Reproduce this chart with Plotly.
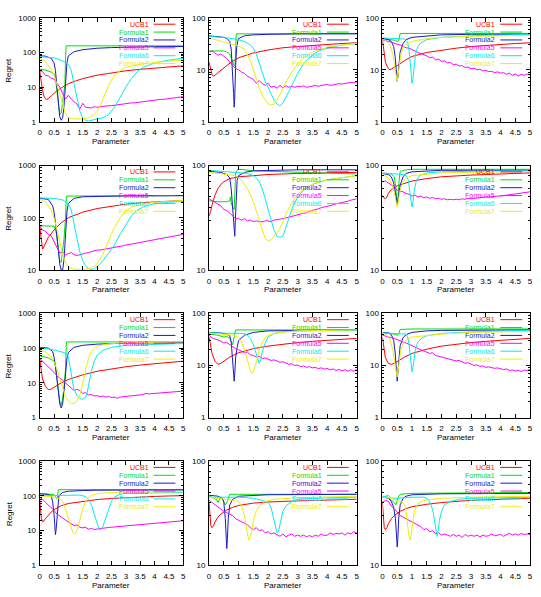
import math
import plotly.graph_objects as go

W, H = 541, 597
NAMES = ["UCB1", "Formula1", "Formula2", "Formula5", "Formula6", "Formula7"]
COLORS = ["#ff0000", "#00e000", "#1a1acc", "#ff00ff", "#00eeee", "#eeee00"]
X_TICKS = [0, 0.5, 1, 1.5, 2, 2.5, 3, 3.5, 4, 4.5, 5]
X_TICK_TEXT = ["0", "0.5", "1", "1.5", "2", "2.5", "3", "3.5", "4", "4.5", "5"]
M_X = [0.0, 0.1, 0.2, 0.3, 0.4, 0.5, 0.6, 0.7, 0.8, 0.9,
       1.0, 1.1, 1.2, 1.3, 1.4, 1.5, 1.6, 1.7, 1.8, 1.9,
       2.0, 2.1, 2.2, 2.3, 2.4, 2.5, 2.6, 2.7, 2.8, 2.9,
       3.0, 3.1, 3.2, 3.3, 3.4, 3.5, 3.6, 3.7, 3.8, 3.9,
       4.0, 4.1, 4.2, 4.3, 4.4, 4.5, 4.6, 4.7, 4.8, 4.9, 5.0]

# ---------------- Panel 1 ----------------
P1_UCB1 = [(0,30),(0.05,15),(0.1,8),(0.15,5.5),(0.2,4.6),(0.25,4.4),(0.3,4.6),(0.4,5.5),(0.5,6.6),(0.6,7.8),(0.8,10),(1.0,12.5),(1.25,15),(1.5,17.5),(2,22),(2.5,26),(3,29.5),(3.5,32.5),(4,35.5),(4.5,38.5),(5,41)]
P1_F1 = [(0,33),(0.2,31),(0.4,27),(0.5,24),(0.55,18),(0.6,8),(0.65,3),(0.7,1.6),(0.75,1.8),(0.8,3.5),(0.85,8),(0.88,12),(0.9,60),(0.92,155),(5,155)]
P1_F2 = [(0,80),(0.2,78),(0.4,68),(0.5,50),(0.55,30),(0.6,10),(0.65,3),(0.7,1.4),(0.75,1.1),(0.8,1.3),(0.85,3),(0.9,15),(0.95,50),(1.0,80),(1.2,105),(1.5,120),(2,132),(2.5,138),(3,142),(4,146),(5,148)]
P1_F5 = [30,28,22,21,18,17,13,10,6.5,4.5, 5.8,4.5,3.8,3.2,2.3,3.4,2.6,2.6,2.5,2.7, 2.6,2.7,2.8,2.8,2.9,2.9,3.0,3.1,3.2,3.2, 3.3,3.4,3.5,3.5,3.6,3.7,3.8,3.9,4.0,4.0, 4.1,4.3,4.4,4.4,4.5,4.6,4.8,4.9,5.0,5.1, 5.3]
P1_F6 = [(0,75),(0.3,74),(0.5,70),(0.7,62),(0.9,52),(1.0,45),(1.1,30),(1.2,12),(1.3,4.5),(1.4,2),(1.5,1.3),(1.6,1.1),(1.7,1.05),(1.8,1.1),(2.0,1.15),(2.2,1.3),(2.4,1.6),(2.6,2.6),(2.8,5),(3.0,10),(3.2,18),(3.4,28),(3.6,37),(3.8,44),(4.0,50),(4.5,60),(5,68)]
P1_F7 = [(0,70),(0.2,55),(0.4,33),(0.5,22),(0.6,12),(0.7,6),(0.8,3),(0.9,1.7),(1.0,1.3),(1.2,1.2),(1.5,1.2),(1.7,1.3),(1.9,1.6),(2.0,2),(2.1,2.8),(2.2,4.5),(2.3,7),(2.4,11),(2.5,16),(2.6,21),(2.8,30),(3.0,37),(3.5,46),(4.0,52),(4.5,56),(5,60)]

# ---------------- Panel 2 ----------------
P2_UCB1 = [(0,14),(0.05,10),(0.1,8),(0.15,7.5),(0.2,7.8),(0.3,8.8),(0.5,11),(0.75,14),(1,17),(1.5,21),(2,24),(2.5,26.5),(3,28),(3.5,29.5),(4,31),(4.5,32),(5,33)]
P2_F1 = [(0,23),(0.3,23),(0.5,23),(0.6,22),(0.7,20),(0.75,17),(0.8,14),(0.85,12),(0.88,12),(0.9,30),(0.92,49),(5,50)]
P2_F2 = [(0,45),(0.3,44),(0.5,42),(0.6,40),(0.7,35),(0.75,25),(0.8,9),(0.83,3.5),(0.85,1.9),(0.87,3),(0.9,12),(0.93,25),(0.97,35),(1.0,40),(1.2,45),(1.5,47),(2,48),(3,49),(5,49)]
P2_F5 = [22,23,21,19,20,18,16.5,14,12,10.5, 10,9,8.5,7.5,7,6.5,5.5,6.2,5.4,5.0, 5.5,4.6,4.8,4.4,5.0,4.5,4.9,4.6,4.8,4.6, 4.8,4.7,4.9,4.6,4.7,4.9,5.0,4.8,5.0,5.1, 5.2,5.0,5.1,5.3,5.4,5.3,5.5,5.6,5.7,5.6, 5.8]
P2_F6 = [(0,44),(0.5,42),(0.8,40),(1.0,38),(1.2,35),(1.4,30),(1.5,26),(1.6,20),(1.7,14),(1.8,9),(1.9,6),(2.0,4.5),(2.1,3.3),(2.2,2.6),(2.3,2.2),(2.4,2.0),(2.5,2.3),(2.6,2.9),(2.7,3.8),(2.8,5),(2.9,6.5),(3.0,8.5),(3.2,13),(3.4,17),(3.6,21),(3.8,24),(4,26),(4.5,30),(5,32)]
P2_F7 = [(0,40),(0.3,37),(0.6,33),(1.0,29),(1.2,25),(1.3,20),(1.4,15),(1.5,10),(1.6,6.5),(1.7,4.5),(1.8,3.2),(1.9,2.6),(2.0,2.2),(2.1,2.1),(2.2,2.2),(2.3,2.6),(2.4,3.3),(2.5,4.3),(2.6,5.8),(2.8,9),(3.0,13),(3.2,17),(3.5,22),(4,27),(4.5,30),(5,32)]

# ---------------- Panel 3 ----------------
P3_UCB1 = [(0,38),(0.05,22),(0.1,14),(0.2,10.5),(0.25,10),(0.3,10.3),(0.4,11),(0.5,12),(0.75,15),(1,18),(1.5,21.5),(2,24),(2.5,26),(3,28),(3.5,29.5),(4,31),(4.5,32),(5,33)]
P3_F1 = [(0,40),(0.2,39),(0.4,37),(0.5,35),(0.55,36),(0.58,45),(0.6,50),(5,50)]
P3_F2 = [(0,40),(0.2,38),(0.3,35),(0.38,28),(0.43,18),(0.47,10),(0.5,6),(0.52,7),(0.55,13),(0.6,22),(0.7,32),(0.8,38),(1.0,42),(1.5,45),(2,47),(3,48),(5,48)]
P3_F5 = [38,36,35,34,33,31,30,28,26.5,26, 24,23,21.5,20.5,19,18.5,17,17.5,15.5,16, 14.5,14.8,13.5,13.8,12.5,12.8,11.8,12,11,11.3, 10.5,10.7,10,10.2,9.5,9.7,9.2,9.3,8.8,9.1, 8.6,8.8,8.2,8.6,7.8,8.3,7.6,8.2,7.8,8.3, 8.0]
P3_F6 = [(0,41),(0.5,40),(0.75,39),(0.85,34),(0.9,24),(0.95,12),(1.0,5.5),(1.03,6.5),(1.07,11),(1.12,20),(1.2,28),(1.3,33),(1.5,38),(2,42),(3,45),(4,47),(5,48)]
P3_F7 = [(0,40),(0.15,35),(0.25,30),(0.35,20),(0.42,11),(0.47,7),(0.5,6),(0.53,8),(0.57,13),(0.62,20),(0.7,27),(0.8,31),(1.0,35),(1.5,40),(2,42),(3,44),(5,46)]

# ---------------- Panel 4 ----------------
P4_UCB1 = [(0,70),(0.05,35),(0.1,25),(0.15,28),(0.2,33),(0.3,42),(0.5,58),(0.75,80),(1,100),(1.5,128),(2,150),(2.5,168),(3,182),(3.5,193),(4,202),(4.5,210),(5,215)]
P4_F1 = [(0,70),(0.3,70),(0.5,69),(0.55,60),(0.6,45),(0.65,25),(0.7,15),(0.75,14),(0.8,22),(0.85,40),(0.9,100),(0.93,260),(5,265)]
P4_F2 = [(0,235),(0.3,225),(0.45,170),(0.5,130),(0.55,80),(0.6,45),(0.65,22),(0.7,13),(0.75,10),(0.8,10),(0.85,16),(0.9,50),(0.95,130),(1.0,190),(1.2,235),(1.5,252),(2,258),(3,262),(5,265)]
P4_F5 = [70,58,55,48,45,34,27,21,22,19.5, 20.5,21.5,19.5,19,19.5,20.5,21,21.5,22.5,23.5, 24,24,24.5,25,25.5,26,27,27.5,28.5,29, 30,30.5,31.5,32,33,33.5,34.5,35,36,37, 38,39,40,41,42,43,44,45,46,47, 48]
P4_F6 = [(0,240),(0.5,235),(0.8,220),(1.0,185),(1.1,140),(1.2,80),(1.3,40),(1.4,22),(1.5,15),(1.6,12),(1.7,10.5),(1.8,10.2),(1.9,10.5),(2.0,11.5),(2.2,15),(2.4,21),(2.6,30),(2.8,48),(3.0,75),(3.2,110),(3.4,140),(3.6,160),(3.8,175),(4,185),(4.5,198),(5,205)]
P4_F7 = [(0,230),(0.2,200),(0.4,140),(0.5,100),(0.6,60),(0.7,32),(0.8,20),(0.9,14),(1.0,11.5),(1.2,10.3),(1.5,10),(1.8,11),(2.0,13),(2.2,20),(2.4,35),(2.6,65),(2.8,100),(3.0,135),(3.2,160),(3.5,180),(4,198),(4.5,208),(5,215)]

# ---------------- Panel 5 ----------------
P5_UCB1 = [(0,33),(0.05,36),(0.1,42),(0.2,52),(0.3,60),(0.4,66),(0.5,70),(0.7,75),(1,78),(1.5,80),(2,82),(3,84),(4,85),(5,86)]
P5_F1 = [(0,46),(0.3,45),(0.6,45),(0.7,46),(0.72,50),(0.75,44),(0.8,40),(0.85,38),(0.88,60),(0.9,85),(0.95,90),(1.0,92),(1.2,91),(1.5,89),(2,88),(3,86),(4,84),(5,83)]
P5_F2 = [(0,88),(0.4,86),(0.6,82),(0.7,76),(0.75,60),(0.8,35),(0.85,22),(0.87,21),(0.89,30),(0.92,55),(0.95,72),(1.0,80),(1.2,86),(1.5,89),(2,90),(3,91),(5,91)]
P5_F5 = [48,46,44,42,41,38,37,35,33,31, 31,30,31,29.5,30,29,29.5,29,29,29.5, 29.5,29,30,30.5,30.5,31,31.5,32,32.5,33, 33.5,34,35,35.5,36.5,37,38,38.5,39.5,40, 41,41.5,42,43,43.5,44,45,45.5,46.5,47, 48]
P5_F6 = [(0,90),(0.5,88),(1.0,85),(1.3,84),(1.5,80),(1.6,76),(1.7,70),(1.8,60),(1.9,48),(2.0,38),(2.1,30),(2.2,24),(2.3,21),(2.4,20.5),(2.5,21),(2.6,25),(2.7,31),(2.8,38),(3.0,50),(3.2,58),(3.5,66),(4,73),(4.5,77),(5,80)]
P5_F7 = [(0,86),(0.5,83),(0.9,80),(1.1,72),(1.3,60),(1.5,45),(1.7,30),(1.8,24),(1.9,20),(2.0,19),(2.1,19.5),(2.2,21),(2.3,23),(2.4,25),(2.5,29),(2.6,34),(2.8,44),(3.0,53),(3.3,62),(3.6,68),(4,73),(4.5,77),(5,80)]

# ---------------- Panel 6 ----------------
P6_UCB1 = [(0,52),(0.05,49),(0.1,48),(0.15,50),(0.2,54),(0.3,59),(0.5,64),(0.75,68),(1,71),(1.5,75),(2,78),(3,81),(4,83),(5,85)]
P6_F1 = [(0,85),(0.3,83),(0.4,78),(0.45,62),(0.5,42),(0.53,50),(0.56,70),(0.6,88),(0.8,91),(1,92),(5,92)]
P6_F2 = [(0,84),(0.2,82),(0.3,78),(0.38,68),(0.44,55),(0.5,42),(0.54,50),(0.6,65),(0.7,78),(0.8,84),(1,87),(1.5,89),(2,90),(5,90)]
P6_F5 = [70,71,68,66,63,58,57,56,54,53, 51,52,50,51,49,50,48.5,49.5,48,48.5, 47.5,48,47,47.5,47,47.5,47,48,47.5,48.5, 48,48.5,49,49,49.5,50,50,50.5,50.5,51, 51,51.5,51.5,52,52.5,53,53.5,54,54.5,55, 56]
P6_F6 = [(0,84),(0.5,83),(0.8,81),(0.88,72),(0.93,55),(0.97,43),(1.0,40),(1.03,44),(1.08,58),(1.15,72),(1.25,80),(1.5,85),(2,87),(3,88),(5,89)]
P6_F7 = [(0,82),(0.2,76),(0.3,68),(0.4,55),(0.47,44),(0.5,40),(0.53,45),(0.6,58),(0.7,70),(0.8,76),(1,80),(2,85),(5,88)]

# ---------------- Panel 7 ----------------
P7_UCB1 = [(0,50),(0.05,22),(0.1,13),(0.2,8),(0.3,6.4),(0.4,6.6),(0.5,7.5),(0.7,9.5),(1,12.5),(1.5,17),(2,21.5),(2.5,25.5),(3,29),(3.5,32.5),(4,35.5),(4.5,38.5),(5,42)]
P7_F1 = [(0,60),(0.3,52),(0.5,42),(0.55,30),(0.6,15),(0.65,6),(0.7,3),(0.75,2.3),(0.8,3.5),(0.85,8),(0.9,25),(0.93,150),(5,150)]
P7_F2 = [(0,105),(0.3,100),(0.45,80),(0.5,55),(0.55,30),(0.6,12),(0.65,5),(0.7,2.5),(0.75,1.9),(0.8,2.5),(0.85,6),(0.9,20),(0.95,50),(1.0,75),(1.2,105),(1.5,120),(2,130),(3,138),(4,142),(5,145)]
P7_F5 = [50,42,35,29,24,20,16,14,12,10, 8.5,7,6,6.5,6,5,5.2,4.5,4.6,4.2, 4.3,4.0,4.2,3.9,4.1,3.8,3.9,3.6,3.9,4.0, 4.1,4.2,4.3,4.4,4.5,4.5,4.6,5.0,4.8,4.9, 5.0,5.0,5.1,5.2,5.3,5.3,5.4,5.5,5.6,5.7, 5.8]
P7_F6 = [(0,100),(0.3,95),(0.6,85),(0.8,78),(0.9,72),(1.0,55),(1.05,35),(1.1,18),(1.15,10),(1.2,6.5),(1.3,4.3),(1.4,3.5),(1.5,3.4),(1.6,3.8),(1.65,5),(1.7,8),(1.75,13),(1.8,22),(1.9,42),(2.0,62),(2.2,85),(2.5,105),(3,120),(4,130),(5,135)]
P7_F7 = [(0,90),(0.2,78),(0.4,55),(0.5,40),(0.6,25),(0.7,13),(0.8,7),(0.9,4),(1.0,3),(1.1,2.5),(1.2,2.6),(1.3,3),(1.4,4.5),(1.5,9),(1.55,15),(1.6,25),(1.7,50),(1.8,80),(1.9,100),(2.0,115),(2.5,135),(3,142),(5,150)]

# ---------------- Panel 8 ----------------
P8_UCB1 = [(0,35),(0.05,25),(0.1,17),(0.2,12),(0.3,10.5),(0.4,11),(0.5,12),(0.7,14.5),(1,17.5),(1.5,21),(2,23.5),(2.5,25.5),(3,27.5),(3.5,29),(4,30.5),(4.5,32),(5,33)]
P8_F1 = [(0,40),(0.3,38),(0.5,35),(0.6,36),(0.7,33),(0.75,28),(0.8,25),(0.85,35),(0.88,45),(0.9,48),(5,48)]
P8_F2 = [(0,43),(0.4,42),(0.6,40),(0.7,37),(0.75,28),(0.8,12),(0.83,6),(0.85,5),(0.87,7),(0.9,14),(0.95,22),(1.0,30),(1.2,38),(1.5,43),(2,46),(3,47),(5,48)]
P8_F5 = [38,34,32,31,29,27,27.5,25,23,21, 20,19,17.5,18,16,15.5,14.5,15,13.5,14, 13,12.5,12.8,12,11.5,11.8,11,10.5,10.8,10, 10.2,9.5,9.8,9.2,9.5,9,9.2,8.7,9,8.5, 8.8,8.2,8.6,8,8.4,7.9,8.3,7.8,8.3,7.7, 8.4]
P8_F6 = [(0,42),(0.5,42),(1.0,42),(1.2,41),(1.3,38),(1.4,33),(1.5,25),(1.6,17),(1.65,13),(1.7,11),(1.75,13),(1.8,18),(1.9,27),(2.0,35),(2.2,41),(2.5,44),(3,46),(5,47)]
P8_F7 = [(0,42),(0.5,40),(0.8,38),(1.0,35),(1.1,28),(1.2,20),(1.3,12),(1.4,8),(1.45,7),(1.5,7.5),(1.55,9),(1.6,12),(1.7,20),(1.8,28),(1.9,34),(2.0,38),(2.3,42),(3,46),(5,48)]

# ---------------- Panel 9 ----------------
P9_UCB1 = [(0,35),(0.05,20),(0.1,14),(0.2,11),(0.3,10.5),(0.4,11),(0.5,12),(0.75,14.5),(1,17),(1.5,20.5),(2,23.5),(2.5,25.5),(3,27.5),(3.5,29),(4,30.5),(4.5,32),(5,33)]
P9_F1 = [(0,42),(0.3,41),(0.45,39),(0.5,38),(0.55,40),(0.58,46),(0.6,49),(1,50),(5,50)]
P9_F2 = [(0,43),(0.2,42),(0.3,39),(0.38,30),(0.43,18),(0.47,9),(0.5,5),(0.52,7),(0.55,13),(0.6,24),(0.7,34),(0.8,39),(1,43),(1.5,46),(2,47),(5,48)]
P9_F5 = [38,37,35,34,33,31,30,28,27,25, 24,22.5,21,20,19,18,17,17.5,15.5,15, 14.5,14,13.5,13,12.5,12.2,12.5,11.5,11,11.3, 10.5,10,10.3,9.6,9.8,9.2,9.4,9,8.8,9, 8.5,8.3,8.6,8,8.2,7.8,8.1,7.6,8.2,8, 8.4]
P9_F6 = [(0,42),(0.5,41),(0.8,40),(0.85,36),(0.9,26),(0.95,14),(1.0,7.6),(1.03,9),(1.07,14),(1.12,21),(1.2,28),(1.35,34),(1.5,37),(2,41),(3,44),(4,46),(5,47)]
P9_F7 = [(0,42),(0.15,38),(0.25,32),(0.35,20),(0.42,11),(0.47,7),(0.5,6),(0.53,8),(0.57,13),(0.62,20),(0.7,26),(0.8,31),(1.0,35),(1.5,38),(2,40),(3,43),(5,45)]

# ---------------- Panel 10 ----------------
P10_UCB1 = [(0,80),(0.03,35),(0.06,22),(0.1,18),(0.15,19),(0.2,22),(0.3,28),(0.4,34),(0.5,40),(0.75,52),(1,60),(1.5,70),(2,78),(2.5,84),(3,89),(3.5,93),(4,96),(4.5,99),(5,101)]
P10_F1 = [(0,115),(0.3,113),(0.5,108),(0.55,95),(0.6,82),(0.62,90),(0.65,150),(5,150)]
P10_F2 = [(0,115),(0.3,110),(0.4,100),(0.45,70),(0.5,30),(0.53,12),(0.55,7.7),(0.57,10),(0.6,25),(0.63,60),(0.67,100),(0.8,125),(1,135),(1.5,142),(2,145),(5,148)]
P10_F5 = [90,80,65,55,45,38,30,27,23,20, 18,15.5,14,14.5,12.5,12,12.5,11,11.5,10.8, 11.2,11.5,11.8,12,12.3,12.5,12.8,13,13.2,13.5, 13.8,14,14.2,14.5,14.8,15,15.3,15.5,15.8,16, 16.3,16.5,16.8,17,17.3,17.5,17.8,18.1,18.5,18.8, 19.2]
P10_F6 = [(0,100),(0.5,102),(1,108),(1.4,105),(1.6,95),(1.7,80),(1.8,55),(1.9,30),(2.0,16),(2.05,12),(2.1,10.5),(2.15,11),(2.2,13),(2.3,22),(2.4,42),(2.5,70),(2.6,92),(2.8,110),(3,118),(4,123),(5,125)]
P10_F7 = [(0,100),(0.4,95),(0.7,82),(0.8,68),(0.9,42),(1.0,22),(1.1,12),(1.15,9),(1.2,8),(1.25,8.3),(1.3,10),(1.35,15),(1.4,22),(1.5,42),(1.6,70),(1.7,90),(1.8,102),(2.0,115),(2.5,125),(3,128),(5,130)]

# ---------------- Panel 11 ----------------
P11_UCB1 = [(0,40),(0.03,28),(0.06,24),(0.1,23),(0.15,24),(0.2,26),(0.3,29),(0.4,31),(0.6,34),(0.8,36),(1,37.5),(1.5,39.5),(2,40.5),(3,41.5),(4,42.5),(5,43)]
P11_F1 = [(0,46),(0.1,45),(0.2,44),(0.25,43),(0.3,40),(0.35,42),(0.4,45),(0.45,44),(0.5,40),(0.55,38),(0.6,40),(0.65,45),(0.7,48),(1,48),(5,48)]
P11_F2 = [(0,47),(0.3,46),(0.45,44),(0.5,40),(0.55,28),(0.58,18),(0.6,14.5),(0.62,18),(0.65,28),(0.7,38),(0.8,43),(1,46),(2,47.5),(5,48)]
P11_F5 = [42,40,38,36,34,33,32,31,30,28, 27,26,25,24.5,23,22,23,21.5,22,20.5, 21,20,20.5,19.8,19,20,18.8,19.5,20,19, 19.5,19,19.5,18.8,19.3,18.8,19.5,19,20,19.3, 19.5,20.5,19.8,20.2,20,20.5,19.5,20.5,20,21, 20.5]
P11_F6 = [(0,45),(0.5,45),(1,45),(1.5,44),(1.8,42),(2.0,40),(2.1,36),(2.15,31),(2.2,27),(2.25,23),(2.3,20.5),(2.35,21),(2.4,24),(2.45,29),(2.5,33),(2.6,37),(2.8,41),(3,43),(4,44.5),(5,45)]
P11_F7 = [(0,45),(0.3,44),(0.5,43),(0.8,42),(1.0,41),(1.1,37),(1.2,30),(1.25,24),(1.3,20),(1.35,17.5),(1.4,18.5),(1.45,22),(1.5,27),(1.6,33),(1.7,37),(1.9,41),(2.2,43),(3,44.5),(5,46)]

# ---------------- Panel 12 ----------------
P12_UCB1 = [(0,40),(0.03,27),(0.06,23),(0.1,22),(0.15,23),(0.2,25),(0.3,28),(0.4,30),(0.6,33),(0.8,35),(1,36.5),(1.5,38.5),(2,40),(3,42),(4,43),(5,44)]
P12_F1 = [(0,46),(0.2,45),(0.3,42),(0.4,40),(0.45,38),(0.5,42),(0.55,46),(0.6,48),(1,49),(5,50)]
P12_F2 = [(0,45),(0.2,44),(0.3,41),(0.38,36),(0.44,28),(0.48,18),(0.5,15),(0.52,18),(0.55,28),(0.6,38),(0.7,44),(0.8,46),(1,47.5),(2,48.5),(5,49)]
P12_F5 = [40,42,41,37,35,32,30,29,28,27, 26,25,24,23.5,22,22.5,21,21.5,20,20.5, 19.5,20,19.5,19,19.8,19,19.5,18.5,19.8,19, 19.5,19,19.5,18.8,19.5,19,19.3,20,19.2,19.5, 19.8,19,19.6,20.3,19.5,20,19.5,20.2,19.8,20, 19.8]
P12_F6 = [(0,45),(0.2,47),(0.3,44),(0.5,44),(1,45),(1.4,45),(1.55,43),(1.65,38),(1.72,32),(1.78,25),(1.82,21),(1.85,19),(1.88,21),(1.93,27),(2.0,33),(2.1,38),(2.3,41),(2.6,43),(3,44),(5,45)]
P12_F7 = [(0,45),(0.3,44),(0.5,42),(0.7,40),(0.78,36),(0.83,29),(0.87,22),(0.9,19),(0.93,17.5),(0.97,19),(1.0,23),(1.05,29),(1.1,34),(1.2,39),(1.4,42),(2,44),(3,45),(5,46)]

Y_RANGES = [(1, 1000), (1, 100), (1, 100),
            (10, 1000), (10, 100), (10, 100),
            (1, 1000), (1, 100), (1, 100),
            (1, 1000), (10, 100), (10, 100)]

PANELS = [
    (P1_UCB1, P1_F1, P1_F2, P1_F5, P1_F6, P1_F7),
    (P2_UCB1, P2_F1, P2_F2, P2_F5, P2_F6, P2_F7),
    (P3_UCB1, P3_F1, P3_F2, P3_F5, P3_F6, P3_F7),
    (P4_UCB1, P4_F1, P4_F2, P4_F5, P4_F6, P4_F7),
    (P5_UCB1, P5_F1, P5_F2, P5_F5, P5_F6, P5_F7),
    (P6_UCB1, P6_F1, P6_F2, P6_F5, P6_F6, P6_F7),
    (P7_UCB1, P7_F1, P7_F2, P7_F5, P7_F6, P7_F7),
    (P8_UCB1, P8_F1, P8_F2, P8_F5, P8_F6, P8_F7),
    (P9_UCB1, P9_F1, P9_F2, P9_F5, P9_F6, P9_F7),
    (P10_UCB1, P10_F1, P10_F2, P10_F5, P10_F6, P10_F7),
    (P11_UCB1, P11_F1, P11_F2, P11_F5, P11_F6, P11_F7),
    (P12_UCB1, P12_F1, P12_F2, P12_F5, P12_F6, P12_F7),
]

# ---- layout geometry (pixels) ----
COLS = [(38, 183), (209, 358), (384, 533)]
ROWS = [(14, 119.5), (164, 270), (314, 420), (464, 570)]
FONT = "Liberation Sans, Arial, sans-serif"

def px(x):
    return x / W

def py(y):
    return 1 - y / H

fig = go.Figure()
layout = dict(width=W, height=H, margin=dict(l=0, r=0, t=0, b=0),
              paper_bgcolor="white", plot_bgcolor="white", showlegend=False,
              font=dict(family=FONT, size=8, color="black"))
annotations = []
shapes = []

for i, series in enumerate(PANELS):
    r, c = divmod(i, 3)
    s = "" if i == 0 else str(i + 1)
    L, R = COLS[c]
    T, B = ROWS[r]
    lo, hi = Y_RANGES[i]
    for name, color, data in zip(NAMES, COLORS, series):
        if name == "Formula5":
            xs, ys = M_X, data
        else:
            xs = [p[0] for p in data]
            ys = [p[1] for p in data]
        fig.add_trace(go.Scatter(x=xs, y=ys, mode="lines", name=name,
                                 line=dict(color=color, width=1),
                                 xaxis="x" + s, yaxis="y" + s, showlegend=False))
    d0, d1 = int(round(math.log10(lo))), int(round(math.log10(hi)))
    major = [10 ** k for k in range(d0, d1 + 1)]
    minor = [m * 10 ** k for k in range(d0, d1) for m in range(2, 10)]
    layout["xaxis" + s] = dict(domain=[px(L), px(R)], anchor="y" + s, range=[0, 5],
                               tickvals=X_TICKS, ticktext=X_TICK_TEXT,
                               ticks="inside", ticklen=4, tickcolor="black",
                               ticklabelstandoff=3,
                               showline=True, mirror="ticks", linecolor="black", linewidth=1,
                               showgrid=False, zeroline=False,
                               tickfont=dict(size=8, family=FONT, color="black"))
    layout["yaxis" + s] = dict(domain=[py(B), py(T)], anchor="x" + s, type="log",
                               range=[math.log10(lo), math.log10(hi)],
                               tickvals=major, ticktext=[str(v) for v in major],
                               ticks="inside", ticklen=4, tickcolor="black",
                               ticklabelstandoff=1,
                               minor=dict(tickvals=minor, ticks="inside", ticklen=2,
                                          tickcolor="black", showgrid=False),
                               showline=True, mirror="ticks", linecolor="black", linewidth=1,
                               showgrid=False, zeroline=False,
                               tickfont=dict(size=8, family=FONT, color="black"))
    # key (gnuplot style: label then line sample)
    for k, (name, color) in enumerate(zip(NAMES, COLORS)):
        yk = T + 6.5 + k * 8
        annotations.append(dict(x=px(R - 34), y=py(yk), xref="paper", yref="paper",
                                text=name, showarrow=False, xanchor="right", yanchor="middle",
                                borderpad=0,
                                font=dict(size=7, family=FONT, color=color)))
        shapes.append(dict(type="line", xref="paper", yref="paper",
                           x0=px(R - 30), x1=px(R - 8), y0=py(yk), y1=py(yk),
                           line=dict(color=color, width=1)))
    annotations.append(dict(x=px((L + R) / 2), y=py(B + 20), xref="paper", yref="paper",
                            text="Parameter", showarrow=False, xanchor="center", yanchor="middle",
                            font=dict(size=8, family=FONT, color="black")))
    if c == 0:
        annotations.append(dict(x=px(7), y=py((T + B) / 2), xref="paper", yref="paper",
                                text="Regret", showarrow=False, textangle=-90,
                                xanchor="center", yanchor="middle",
                                font=dict(size=8, family=FONT, color="black")))

layout["annotations"] = annotations
layout["shapes"] = shapes
fig.update_layout(**layout)
fig.write_html("out.html")
